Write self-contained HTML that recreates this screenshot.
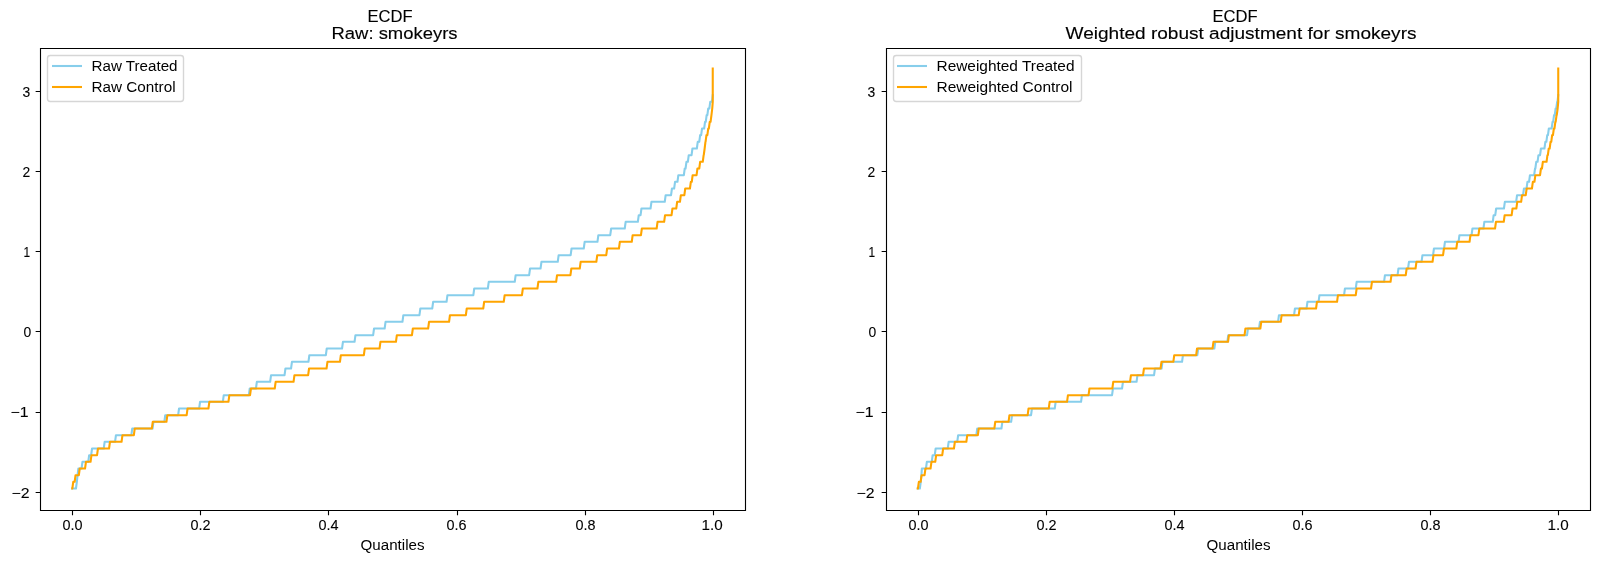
<!DOCTYPE html><html><head><meta charset="utf-8"><style>html,body{margin:0;padding:0;background:#fff;width:1600px;height:563px;overflow:hidden}svg{display:block;will-change:transform}text{font-family:"Liberation Sans",sans-serif;fill:#000}</style></head><body>
<svg width="1600" height="563" viewBox="0 0 1600 563">
<rect width="1600" height="563" fill="#fff"/>
<path d="M72.25 488.50L75.95 488.50L76.85 481.83L76.85 481.83L77.55 475.17L77.55 475.17L78.35 468.50L81.55 468.50L82.45 461.83L88.25 461.83L89.15 455.17L91.15 455.17L92.05 448.50L103.75 448.50L104.65 441.83L115.05 441.83L115.95 435.17L131.35 435.17L132.25 428.50L152.55 428.50L153.45 421.83L164.35 421.83L165.25 415.17L178.15 415.17L179.05 408.50L199.15 408.50L200.05 401.83L222.85 401.83L223.75 395.17L248.85 395.17L249.75 388.50L255.95 388.50L256.85 381.83L270.15 381.83L271.05 375.17L284.55 375.17L285.45 368.50L291.05 368.50L291.95 361.83L308.45 361.83L309.35 355.17L325.85 355.17L326.75 348.50L342.05 348.50L342.95 341.83L354.55 341.83L355.45 335.17L373.15 335.17L374.05 328.50L384.65 328.50L385.55 321.83L402.45 321.83L403.35 315.17L419.45 315.17L420.35 308.50L432.25 308.50L433.15 301.83L446.55 301.83L447.45 295.17L473.35 295.17L474.25 288.50L487.85 288.50L488.75 281.83L514.75 281.83L515.65 275.17L529.15 275.17L530.05 268.50L540.55 268.50L541.45 261.83L557.75 261.83L558.65 255.17L570.65 255.17L571.55 248.50L583.75 248.50L584.65 241.83L597.45 241.83L598.35 235.17L610.25 235.17L611.15 228.50L624.75 228.50L625.65 221.83L637.85 221.83L638.75 215.17L640.55 215.17L641.45 208.50L650.55 208.50L651.45 201.83L664.75 201.83L665.65 195.17L671.05 195.17L671.95 188.50L674.15 188.50L675.05 181.83L677.45 181.83L678.35 175.17L683.85 175.17L684.75 168.50L685.55 168.50L686.45 161.83L687.85 161.83L688.75 155.17L691.55 155.17L692.45 148.50L696.85 148.50L697.75 141.83L699.25 141.83L700.15 135.16L701.15 135.16L702.05 128.50L704.15 128.50L705.05 121.83L705.75 121.83L706.65 115.16L707.35 115.16L708.25 108.50L709.35 108.50L710.25 101.83L711.95 101.83L712.75 95.16" fill="none" stroke="#87ceeb" stroke-width="2.08" stroke-linejoin="round" stroke-linecap="square"/>
<path d="M72.25 488.50L72.35 488.50L73.25 481.83L74.65 481.83L75.55 475.17L78.85 475.17L79.75 468.50L85.05 468.50L85.95 461.83L90.55 461.83L91.45 455.17L97.05 455.17L97.95 448.50L109.05 448.50L109.95 441.83L121.55 441.83L122.45 435.17L133.85 435.17L134.75 428.50L151.85 428.50L152.75 421.83L166.45 421.83L167.35 415.17L186.65 415.17L187.55 408.50L208.45 408.50L209.35 401.83L228.45 401.83L229.35 395.17L250.05 395.17L250.95 388.50L274.75 388.50L275.65 381.83L293.55 381.83L294.45 375.17L308.15 375.17L309.05 368.50L326.55 368.50L327.45 361.83L339.95 361.83L340.85 355.17L363.85 355.17L364.75 348.50L379.55 348.50L380.45 341.83L395.95 341.83L396.85 335.17L411.95 335.17L412.85 328.50L428.15 328.50L429.05 321.83L449.05 321.83L449.95 315.17L465.85 315.17L466.75 308.50L483.25 308.50L484.15 301.83L503.75 301.83L504.65 295.17L521.95 295.17L522.85 288.50L537.45 288.50L538.35 281.83L556.15 281.83L557.05 275.17L570.45 275.17L571.35 268.50L579.75 268.50L580.65 261.83L596.35 261.83L597.25 255.17L606.25 255.17L607.15 248.50L618.95 248.50L619.85 241.83L631.75 241.83L632.65 235.17L640.95 235.17L641.85 228.50L656.65 228.50L657.55 221.83L664.15 221.83L665.05 215.17L671.55 215.17L672.45 208.50L676.25 208.50L677.15 201.83L679.95 201.83L680.85 195.17L684.35 195.17L685.25 188.50L689.95 188.50L690.85 181.83L691.75 181.83L692.65 175.17L696.55 175.17L697.45 168.50L699.25 168.50L700.15 161.83L702.75 161.83L703.65 155.17L703.75 155.17L704.65 148.50L704.65 148.50L705.45 141.83L705.55 141.83L706.45 135.16L707.35 135.16L708.25 128.50L708.85 128.50L709.75 121.83L710.55 121.83L711.45 115.16L711.45 115.16L712.25 108.50L712.25 108.50L712.75 101.83L712.75 101.83L712.75 95.16L712.75 95.16L712.75 88.50L712.75 88.50L712.75 81.83L712.75 81.83L712.75 75.16L712.75 75.16L712.75 68.50" fill="none" stroke="#ffa500" stroke-width="2.08" stroke-linejoin="round" stroke-linecap="square"/>
<path d="M40.5 48.5H745.5V510.5H40.5Z" fill="none" stroke="#000" stroke-width="1.11" stroke-linecap="square"/>
<path d="M72.5 510.5V515.36M200.5 510.5V515.36M328.5 510.5V515.36M457.5 510.5V515.36M585.5 510.5V515.36M713.5 510.5V515.36M35.64 91.5H40.5M35.64 171.5H40.5M35.64 251.5H40.5M35.64 331.5H40.5M35.64 412.5H40.5M35.64 492.5H40.5" fill="none" stroke="#000" stroke-width="1.11"/>
<rect x="47.5" y="55.5" width="136.0" height="46" rx="2.8" ry="2.8" fill="#fff" fill-opacity="0.8" stroke="#ccc" stroke-opacity="0.8" stroke-width="1.39"/>
<path d="M52.0 66H82.0" stroke="#87ceeb" stroke-width="2.08" stroke-linecap="butt"/>
<path d="M52.0 87H82.0" stroke="#ffa500" stroke-width="2.08" stroke-linecap="butt"/>
<path d="M917.75 488.50L919.85 488.50L920.75 481.83L920.75 481.83L921.45 475.17L921.45 475.17L921.85 468.50L925.95 468.50L926.85 461.83L931.75 461.83L932.65 455.17L934.75 455.17L935.65 448.50L947.75 448.50L948.65 441.83L957.25 441.83L958.15 435.17L976.35 435.17L977.25 428.50L1001.45 428.50L1002.35 421.83L1011.15 421.83L1012.05 415.17L1031.05 415.17L1031.95 408.50L1054.75 408.50L1055.65 401.83L1081.05 401.83L1081.95 395.17L1112.05 395.17L1112.95 388.50L1122.05 388.50L1122.95 381.83L1136.55 381.83L1137.45 375.17L1154.05 375.17L1154.95 368.50L1161.55 368.50L1162.45 361.83L1182.05 361.83L1182.95 355.17L1197.35 355.17L1198.25 348.50L1214.35 348.50L1215.25 341.83L1227.35 341.83L1228.25 335.17L1247.05 335.17L1247.95 328.50L1259.05 328.50L1259.95 321.83L1278.05 321.83L1278.95 315.17L1294.05 315.17L1294.95 308.50L1306.55 308.50L1307.45 301.83L1318.55 301.83L1319.45 295.17L1344.05 295.17L1344.95 288.50L1355.75 288.50L1356.65 281.83L1384.05 281.83L1384.95 275.17L1397.55 275.17L1398.45 268.50L1408.05 268.50L1408.95 261.83L1421.55 261.83L1422.45 255.17L1433.05 255.17L1433.95 248.50L1444.05 248.50L1444.95 241.83L1458.55 241.83L1459.45 235.17L1471.55 235.17L1472.45 228.50L1483.45 228.50L1484.35 221.83L1492.75 221.83L1493.65 215.17L1495.25 215.17L1496.15 208.50L1503.95 208.50L1504.85 201.83L1516.15 201.83L1517.05 195.17L1523.05 195.17L1523.95 188.50L1526.55 188.50L1527.45 181.83L1529.05 181.83L1529.95 175.17L1534.15 175.17L1535.05 168.50L1535.35 168.50L1536.25 161.83L1537.55 161.83L1538.45 155.17L1540.05 155.17L1540.95 148.50L1544.45 148.50L1545.35 141.83L1546.35 141.83L1547.25 135.16L1547.95 135.16L1548.85 128.50L1551.65 128.50L1552.55 121.83L1553.15 121.83L1554.05 115.16L1554.75 115.16L1555.65 108.50L1556.25 108.50L1557.15 101.83L1557.45 101.83L1558.25 95.16" fill="none" stroke="#87ceeb" stroke-width="2.08" stroke-linejoin="round" stroke-linecap="square"/>
<path d="M917.75 488.50L917.95 488.50L918.85 481.83L920.65 481.83L921.55 475.17L924.55 475.17L925.45 468.50L930.55 468.50L931.45 461.83L935.25 461.83L936.15 455.17L942.25 455.17L943.15 448.50L953.95 448.50L954.85 441.83L966.35 441.83L967.25 435.17L977.85 435.17L978.75 428.50L994.35 428.50L995.25 421.83L1008.55 421.83L1009.45 415.17L1027.65 415.17L1028.55 408.50L1048.75 408.50L1049.65 401.83L1067.05 401.83L1067.95 395.17L1088.55 395.17L1089.45 388.50L1112.35 388.50L1113.25 381.83L1130.05 381.83L1130.95 375.17L1143.05 375.17L1143.95 368.50L1160.55 368.50L1161.45 361.83L1173.35 361.83L1174.25 355.17L1196.15 355.17L1197.05 348.50L1212.55 348.50L1213.45 341.83L1228.05 341.83L1228.95 335.17L1244.55 335.17L1245.45 328.50L1260.35 328.50L1261.25 321.83L1280.75 321.83L1281.65 315.17L1298.75 315.17L1299.65 308.50L1316.05 308.50L1316.95 301.83L1337.05 301.83L1337.95 295.17L1355.75 295.17L1356.65 288.50L1371.05 288.50L1371.95 281.83L1390.55 281.83L1391.45 275.17L1405.75 275.17L1406.65 268.50L1415.55 268.50L1416.45 261.83L1432.55 261.83L1433.45 255.17L1443.05 255.17L1443.95 248.50L1456.35 248.50L1457.25 241.83L1469.55 241.83L1470.45 235.17L1478.45 235.17L1479.35 228.50L1495.05 228.50L1495.95 221.83L1503.75 221.83L1504.65 215.17L1511.65 215.17L1512.55 208.50L1516.35 208.50L1517.25 201.83L1521.15 201.83L1522.05 195.17L1525.75 195.17L1526.65 188.50L1531.95 188.50L1532.85 181.83L1534.45 181.83L1535.35 175.17L1540.05 175.17L1540.95 168.50L1541.95 168.50L1542.85 161.83L1546.55 161.83L1547.45 155.17L1547.85 155.17L1548.75 148.50L1549.65 148.50L1550.55 141.83L1551.25 141.83L1552.15 135.16L1552.95 135.16L1553.85 128.50L1554.45 128.50L1555.35 121.83L1555.65 121.83L1556.55 115.16L1556.75 115.16L1557.65 108.50L1557.65 108.50L1558.25 101.83L1558.25 101.83L1558.25 95.16L1558.25 95.16L1558.25 88.50L1558.25 88.50L1558.25 81.83L1558.25 81.83L1558.25 75.16L1558.25 75.16L1558.25 68.50" fill="none" stroke="#ffa500" stroke-width="2.08" stroke-linejoin="round" stroke-linecap="square"/>
<path d="M886.5 48.5H1590.5V510.5H886.5Z" fill="none" stroke="#000" stroke-width="1.11" stroke-linecap="square"/>
<path d="M918.5 510.5V515.36M1046.5 510.5V515.36M1174.5 510.5V515.36M1302.5 510.5V515.36M1430.5 510.5V515.36M1558.5 510.5V515.36M881.64 91.5H886.5M881.64 171.5H886.5M881.64 251.5H886.5M881.64 331.5H886.5M881.64 412.5H886.5M881.64 492.5H886.5" fill="none" stroke="#000" stroke-width="1.11"/>
<rect x="893.5" y="55.5" width="188.0" height="46" rx="2.8" ry="2.8" fill="#fff" fill-opacity="0.8" stroke="#ccc" stroke-opacity="0.8" stroke-width="1.39"/>
<path d="M897.0 66H927.0" stroke="#87ceeb" stroke-width="2.08" stroke-linecap="butt"/>
<path d="M897.0 87H927.0" stroke="#ffa500" stroke-width="2.08" stroke-linecap="butt"/>
<text id="tl1" x="367.50" y="22.00" font-size="16.67" textLength="45.10" lengthAdjust="spacingAndGlyphs" stroke="#000" stroke-width="0.12">ECDF</text>
<text id="tl2" x="331.50" y="39.00" font-size="16.67" textLength="126.03" lengthAdjust="spacingAndGlyphs" stroke="#000" stroke-width="0.12">Raw: smokeyrs</text>
<text id="xl" x="360.50" y="550.40" font-size="13.89" textLength="64.02" lengthAdjust="spacingAndGlyphs">Quantiles</text>
<text id="lt1" x="91.50" y="71.00" font-size="13.89" textLength="86.05" lengthAdjust="spacingAndGlyphs">Raw Treated</text>
<text id="lt2" x="91.50" y="92.00" font-size="13.89" textLength="84.05" lengthAdjust="spacingAndGlyphs">Raw Control</text>
<text id="tr1" x="1212.50" y="22.00" font-size="16.67" textLength="45.10" lengthAdjust="spacingAndGlyphs" stroke="#000" stroke-width="0.12">ECDF</text>
<text id="tr2" x="1065.50" y="39.00" font-size="16.67" textLength="351.00" lengthAdjust="spacingAndGlyphs" stroke="#000" stroke-width="0.12">Weighted robust adjustment for smokeyrs</text>
<text id="xr" x="1206.50" y="550.40" font-size="13.89" textLength="64.02" lengthAdjust="spacingAndGlyphs">Quantiles</text>
<text id="rt1" x="936.50" y="71.00" font-size="13.89" textLength="138.03" lengthAdjust="spacingAndGlyphs">Reweighted Treated</text>
<text id="rt2" x="936.50" y="92.00" font-size="13.89" textLength="136.03" lengthAdjust="spacingAndGlyphs">Reweighted Control</text>
<text id="xtl0" x="62.50" y="530.00" font-size="13.89" textLength="20.06" lengthAdjust="spacingAndGlyphs" stroke="#000" stroke-width="0.09">0.0</text>
<text id="xtl1" x="190.50" y="530.00" font-size="13.89" textLength="20.06" lengthAdjust="spacingAndGlyphs" stroke="#000" stroke-width="0.09">0.2</text>
<text id="xtl2" x="318.50" y="530.00" font-size="13.89" textLength="20.06" lengthAdjust="spacingAndGlyphs" stroke="#000" stroke-width="0.09">0.4</text>
<text id="xtl3" x="446.50" y="530.00" font-size="13.89" textLength="20.06" lengthAdjust="spacingAndGlyphs" stroke="#000" stroke-width="0.09">0.6</text>
<text id="xtl4" x="575.50" y="530.00" font-size="13.89" textLength="20.06" lengthAdjust="spacingAndGlyphs" stroke="#000" stroke-width="0.09">0.8</text>
<text id="xtl5" x="701.50" y="530.00" font-size="13.89" textLength="21.17" lengthAdjust="spacingAndGlyphs" stroke="#000" stroke-width="0.09">1.0</text>
<text id="xtr0" x="908.50" y="530.00" font-size="13.89" textLength="20.06" lengthAdjust="spacingAndGlyphs" stroke="#000" stroke-width="0.09">0.0</text>
<text id="xtr1" x="1036.50" y="530.00" font-size="13.89" textLength="20.06" lengthAdjust="spacingAndGlyphs" stroke="#000" stroke-width="0.09">0.2</text>
<text id="xtr2" x="1164.50" y="530.00" font-size="13.89" textLength="20.06" lengthAdjust="spacingAndGlyphs" stroke="#000" stroke-width="0.09">0.4</text>
<text id="xtr3" x="1292.50" y="530.00" font-size="13.89" textLength="20.06" lengthAdjust="spacingAndGlyphs" stroke="#000" stroke-width="0.09">0.6</text>
<text id="xtr4" x="1420.50" y="530.00" font-size="13.89" textLength="20.06" lengthAdjust="spacingAndGlyphs" stroke="#000" stroke-width="0.09">0.8</text>
<text id="xtr5" x="1547.50" y="530.00" font-size="13.89" textLength="21.17" lengthAdjust="spacingAndGlyphs" stroke="#000" stroke-width="0.09">1.0</text>
<text id="ytl0" x="0" y="0" font-size="13.89" transform="translate(22.50 97.00) scale(1.0000 1)" stroke="#000" stroke-width="0.09">3</text>
<text id="ytr0" x="0" y="0" font-size="13.89" transform="translate(867.50 97.00) scale(1.0000 1)" stroke="#000" stroke-width="0.09">3</text>
<text id="ytl1" x="0" y="0" font-size="13.89" transform="translate(22.50 177.00) scale(1.0000 1)" stroke="#000" stroke-width="0.09">2</text>
<text id="ytr1" x="0" y="0" font-size="13.89" transform="translate(867.50 177.00) scale(1.0000 1)" stroke="#000" stroke-width="0.09">2</text>
<text id="ytl2" x="0" y="0" font-size="13.89" transform="translate(23.50 257.00) scale(0.8571 1)" stroke="#000" stroke-width="0.09">1</text>
<text id="ytr2" x="0" y="0" font-size="13.89" transform="translate(868.50 257.00) scale(0.8571 1)" stroke="#000" stroke-width="0.09">1</text>
<text id="ytl3" x="0" y="0" font-size="13.89" transform="translate(23.50 337.00) scale(1.0000 1)" stroke="#000" stroke-width="0.09">0</text>
<text id="ytr3" x="0" y="0" font-size="13.89" transform="translate(868.50 337.00) scale(1.0000 1)" stroke="#000" stroke-width="0.09">0</text>
<text id="ytl4" x="10.50" y="417.00" font-size="13.89" textLength="18.06" lengthAdjust="spacingAndGlyphs" stroke="#000" stroke-width="0.09">−1</text>
<text id="ytr4" x="855.50" y="417.00" font-size="13.89" textLength="18.06" lengthAdjust="spacingAndGlyphs" stroke="#000" stroke-width="0.09">−1</text>
<text id="ytl5" x="11.50" y="498.00" font-size="13.89" textLength="18.06" lengthAdjust="spacingAndGlyphs" stroke="#000" stroke-width="0.09">−2</text>
<text id="ytr5" x="856.50" y="498.00" font-size="13.89" textLength="18.06" lengthAdjust="spacingAndGlyphs" stroke="#000" stroke-width="0.09">−2</text>
</svg></body></html>
